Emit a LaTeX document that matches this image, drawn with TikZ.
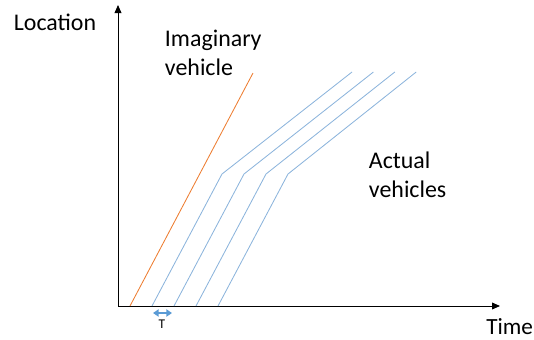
\documentclass[tikz,border=0pt]{standalone}
\usepackage{fontspec}
\setmainfont{Carlito}
\usepackage{xcolor}
\usepackage{tikz}
\usetikzlibrary{arrows.meta,positioning}
\definecolor{ImagOrange}{RGB}{237, 125, 49}
\definecolor{ActualBlue}{RGB}{140, 180, 220}
\definecolor{GapBlue}{RGB}{91, 155, 213}

\begin{document}
\begin{tikzpicture}
    \useasboundingbox (-2.95,-0.825) rectangle (10.4,7.65);
    \coordinate (origin) at (0,0);
    \coordinate (ytip) at (0,7.525);
    \coordinate (xtip) at (9.55,0);
    \draw[line width=0.7pt, -{Triangle[length=2mm,width=1.7mm]}] (origin) -- (ytip);
    \draw[line width=0.7pt, -{Triangle[length=2mm,width=1.7mm]}] (origin) -- (xtip);
    \node[font=\fontsize{17}{20.6}\selectfont] (location) at (-1.575,7.1) {Location};
    \node[font=\fontsize{16.5}{20.6}\selectfont, anchor=west, inner sep=0pt] (time) at (9.2,-0.525) {Time};
    % imaginary vehicle
    \coordinate (imagstart) at (0.3,0);
    \coordinate (imagend) at (3.375,5.825);
    \draw[ImagOrange, line width=0.6pt] (imagstart) -- (imagend);
    \node[font=\fontsize{17}{20.6}\selectfont, align=left, anchor=west] (imaglabel) at (1.05,6.325) {Imaginary\\vehicle};
    % actual vehicles
    \foreach \i in {0,...,3} {
        \coordinate (start\i) at (0.85+0.55*\i,0);
        \coordinate (kink\i) at (2.6+0.55*\i,3.3);
        \coordinate (end\i) at (5.85+0.535*\i,5.85);
        \draw[ActualBlue, line width=0.6pt] (start\i) -- (kink\i) -- (end\i);
    }
    \node[font=\fontsize{17}{20.6}\selectfont, align=left, anchor=west] (actuallabel) at (6.15,3.275) {Actual\\vehicles};
    % headway
    \coordinate (gapleft) at (0.875,-0.175);
    \coordinate (gapright) at (1.35,-0.175);
    \draw[GapBlue, line width=1.3pt, {Triangle[length=1.4mm,width=1.8mm]}-{Triangle[length=1.4mm,width=1.8mm]}] (gapleft) -- (gapright);
    \node[font=\fontsize{9.5}{11}\selectfont] (gaplabel) at (1.1,-0.45) {T};
\end{tikzpicture}
\end{document}
